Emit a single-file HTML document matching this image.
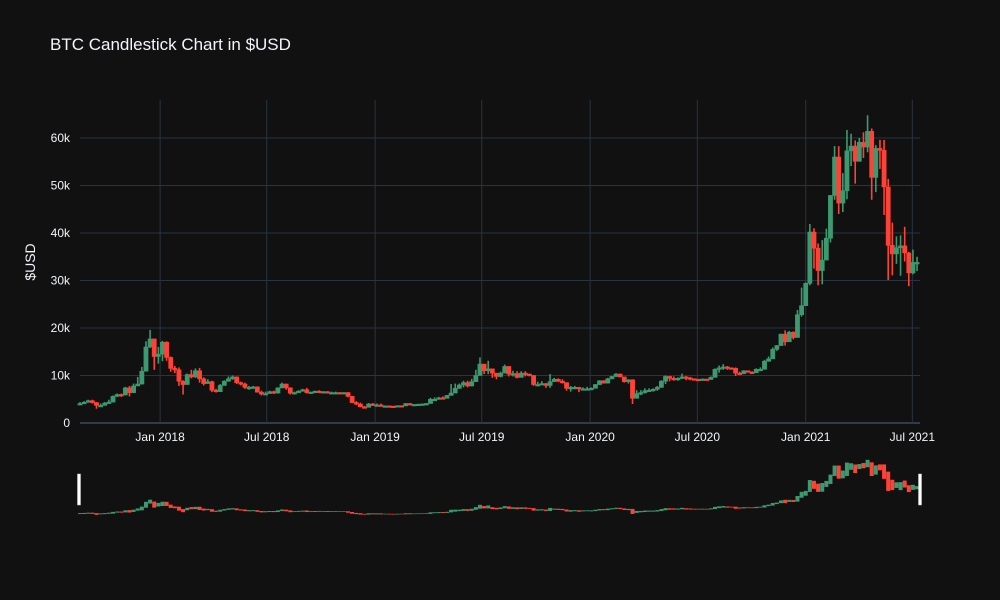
<!DOCTYPE html>
<html><head><meta charset="utf-8"><style>
body{margin:0;background:#111111;}
svg{display:block;font-family:"Liberation Sans",sans-serif;}
</style></head><body>
<svg id="chart" width="1000" height="600" viewBox="0 0 1000 600">
<rect width="1000" height="600" fill="#111111"/>
<text x="50" y="50" fill="#f2f5fa" font-size="17">BTC Candlestick Chart in $USD</text>
<text transform="translate(35,262) rotate(-90)" fill="#f2f5fa" font-size="14" text-anchor="middle">$USD</text>
<g id="grid"></g><g id="candles"></g><g id="mini"></g>
</svg>
<script>
const startDate = "2017-08-18";
const closes = [4.1,4.35,4.7,4.3,3.7,3.7,4.2,4.4,5.6,6.0,5.9,7.4,6.4,7.8,8.2,10.9,16.0,17.7,14.0,14.5,
17.0,13.8,11.5,11.2,8.8,8.1,10.2,9.7,11.0,9.3,8.3,8.7,6.9,6.6,7.9,8.8,9.3,9.7,8.5,8.2,7.5,7.5,7.6,6.5,6.1,6.2,6.6,6.3,7.4,8.2,7.4,6.3,6.4,6.7,7.0,6.4,6.5,6.7,6.6,6.6,6.3,6.4,6.4,6.35,6.4,5.6,4.3,4.0,3.4,3.3,4.0,3.8,
3.8,3.6,3.6,3.55,3.45,3.65,3.6,4.1,3.8,3.9,3.95,4.0,4.1,5.0,5.0,5.3,5.2,5.8,6.3,7.3,8.0,8.5,7.8,8.7,10.0,12.4,11.0,11.4,10.5,9.8,10.5,11.9,10.3,10.4,9.6,10.5,10.3,10.0,8.1,8.1,8.3,7.9,8.7,9.2,8.8,8.5,7.3,7.5,7.5,7.2,7.2,7.2,
7.3,8.1,8.9,8.4,9.3,9.8,10.3,9.7,8.7,9.1,5.2,6.2,6.4,6.8,6.9,7.1,7.5,8.8,9.8,9.4,9.1,9.4,9.7,9.5,9.3,9.2,9.1,9.25,9.15,9.6,11.3,11.6,11.8,11.6,11.5,10.5,10.4,11.0,10.7,10.6,11.3,11.3,13.0,13.5,15.5,16.3,18.7,17.1,19.1,18.0,22.8,24.7,
29.4,40.2,36.8,32.1,34.3,38.9,47.9,56.0,46.3,48.9,57.3,58.3,55.1,59.1,58.1,61.4,51.7,57.8,57.4,49.7,37.4,35.6,36.9,37.3,35.8,31.6,33.8,33.8];
const highs = [4.4,4.6,4.9,4.9,4.4,4.1,4.4,4.9,5.8,6.2,6.2,7.6,7.8,8.3,9.7,11.8,17.2,19.6,17.5,16.0,
17.3,17.2,14.0,12.0,11.7,9.0,10.4,11.2,11.5,11.6,9.6,9.2,8.9,7.2,8.2,9.0,9.8,10.0,9.8,8.7,8.5,7.8,7.8,7.7,6.8,6.6,6.8,6.8,7.5,8.5,8.3,7.5,6.6,6.9,7.2,7.4,6.6,6.8,6.9,6.7,6.7,6.6,6.6,6.5,6.5,6.5,5.7,4.6,4.3,3.6,4.2,4.2,
4.1,4.1,3.7,3.7,3.6,3.7,3.7,4.2,4.2,3.95,4.05,4.1,4.2,5.3,5.4,5.5,5.6,5.9,8.2,8.3,8.3,8.9,8.9,9.3,11.2,13.8,12.4,13.1,11.1,10.4,10.8,12.3,12.0,11.0,10.9,10.9,10.9,10.4,10.1,8.7,8.8,8.4,10.3,9.5,9.4,9.2,8.5,7.8,7.8,7.6,7.5,7.6,
7.5,8.2,9.0,9.0,9.5,9.9,10.5,10.4,9.7,9.2,9.2,6.9,6.9,7.3,7.3,7.3,7.8,9.0,10.0,9.9,9.8,9.6,10.4,9.9,9.7,9.4,9.3,9.4,9.3,9.8,11.5,12.1,12.4,12.0,11.7,11.7,10.8,11.1,11.0,10.9,11.5,11.7,13.3,14.0,15.9,16.4,18.8,19.5,19.4,19.3,23.8,28.5,
29.6,41.9,41.0,37.8,38.5,40.9,48.0,58.3,58.3,52.6,61.7,60.9,59.5,60.0,61.2,64.8,62.0,58.5,59.6,59.6,51.4,42.2,39.3,39.5,41.3,36.0,36.5,35.0];
const lows = [3.9,4.0,4.3,4.1,3.0,3.6,3.8,4.2,4.4,5.5,5.5,5.8,5.6,6.3,7.8,8.1,11.1,15.8,11.2,12.5,
13.0,13.1,10.8,10.5,7.8,6.0,8.2,9.4,9.5,8.5,7.9,8.3,6.5,6.4,6.6,7.9,8.7,9.1,8.2,7.9,7.2,7.0,7.2,6.4,5.8,5.9,6.2,6.1,6.2,7.3,7.0,6.0,6.2,6.4,6.6,6.2,6.2,6.3,6.5,6.4,6.2,6.3,6.3,6.3,6.3,5.4,4.2,3.8,3.3,3.2,3.3,3.6,
3.5,3.5,3.5,3.45,3.35,3.4,3.55,3.6,3.7,3.75,3.85,3.9,3.95,4.1,4.9,4.9,5.1,5.2,5.8,6.6,7.2,7.5,7.5,7.7,8.7,10.0,10.3,10.3,9.5,9.2,9.6,10.5,9.8,9.8,9.4,9.7,9.8,9.8,7.8,7.8,8.0,7.4,7.4,8.8,8.6,8.3,6.8,6.6,7.1,6.5,6.9,7.1,
6.9,7.3,8.0,8.3,8.3,9.2,9.7,9.6,8.5,8.3,4.0,5.2,5.9,6.2,6.6,6.6,6.8,7.4,8.2,8.8,8.9,8.9,9.3,9.0,9.0,9.0,9.0,9.0,9.0,9.1,9.6,10.6,11.2,11.2,11.3,9.9,10.1,10.3,10.6,10.5,10.6,11.2,11.3,12.9,13.5,15.2,16.3,16.3,17.7,17.6,18.0,22.4,
24.7,29.0,32.5,29.0,29.2,34.7,38.0,47.0,44.0,44.4,47.1,54.1,50.4,55.0,55.8,57.0,47.0,48.6,53.5,43.8,30.1,31.1,33.5,31.0,34.0,28.8,31.3,32.0];
const firstOpen = 4.0;
const yTicks = [0,10,20,30,40,50,60];
const yTickLabels = ["0","10k","20k","30k","40k","50k","60k"];
const xTicks = ["2018-01-01","2018-07-01","2019-01-01","2019-07-01","2020-01-01","2020-07-01","2021-01-01","2021-07-01"];
const xTickLabels = ["Jan 2018","Jul 2018","Jan 2019","Jul 2019","Jan 2020","Jul 2020","Jan 2021","Jul 2021"];

const NS="http://www.w3.org/2000/svg";
const day=864e5;
const t0=Date.parse("2017-08-18"), t1=Date.parse("2021-07-14");
const L=80,R=920,T=100,B=423;
const x=t=>L+(t-t0)/(t1-t0)*(R-L);
const y=v=>B-v/68*(B-T);
const ym=v=>517-v/68*60;
function mk(tag,attrs,parent){const e=document.createElementNS(NS,tag);for(const k in attrs)e.setAttribute(k,attrs[k]);parent.appendChild(e);return e;}
const grid=document.getElementById('grid'),cg=document.getElementById('candles'),mg=document.getElementById('mini');
yTicks.forEach((v,i)=>{
  const ln=mk('line',{x1:L,x2:R,y1:y(v),y2:y(v),stroke:v===0?'#506784':'#283442','stroke-width':1},grid);
  
  
  const tx=mk('text',{x:L-10,y:y(v)+4,fill:'#f2f5fa','font-size':12,'text-anchor':'end'},grid);
  tx.textContent=yTickLabels[i];
  
  
});
xTicks.forEach((d,i)=>{
  const xx=x(Date.parse(d));
  const ln=mk('line',{x1:xx,x2:xx,y1:T,y2:B,stroke:'#283442','stroke-width':1},grid);
  
  
  const tx=mk('text',{x:xx,y:B+18,fill:'#f2f5fa','font-size':12,'text-anchor':'middle'},grid);
  tx.textContent=xTickLabels[i];
  
  
});
const s0=Date.parse(startDate);
closes.forEach((c,i)=>{
  const o=i===0?firstOpen:closes[i-1];
  const h=highs[i],l=lows[i];
  const col=c>=o?'#3D9970':'#FF4136';
  const xx=x(s0+i*7*day);
  const g=mk('g',{},cg);
  
  
  mk('line',{x1:xx,x2:xx,y1:y(h),y2:y(l),stroke:col,'stroke-width':1.6},g);
  const top=y(Math.max(o,c)),bot=y(Math.min(o,c));
  mk('rect',{x:xx-2.1,y:top,width:4.2,height:Math.max(1.5,bot-top),fill:col,stroke:col,'stroke-width':0.6},g);
  const m=mk('line',{x1:xx,x2:xx,y1:ym(h),y2:ym(l)+0.5,stroke:col,'stroke-width':4},mg);
  
  
});
[[79,'rangeslider-left-handle'],[920,'rangeslider-right-handle']].forEach(([hx,nm])=>{
  const r=mk('rect',{x:hx-1.5,y:474,width:3,height:31,fill:'#ffffff',stroke:'#cccccc','stroke-width':0.5},mg);
  
  
});
</script>
</body></html>
